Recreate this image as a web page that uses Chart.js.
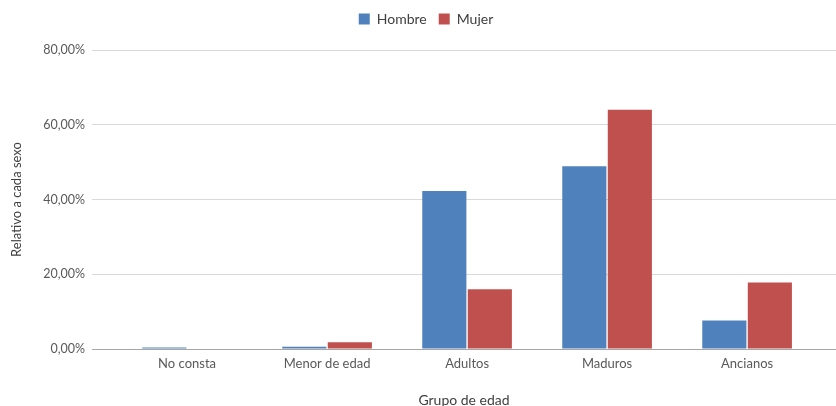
<!DOCTYPE html>
<html>
<head>
<meta charset="utf-8">
<script src="https://cdn.jsdelivr.net/npm/chart.js@4"></script>
<style>
  html, body { margin: 0; padding: 0; background: #fff; }
  #wrap { width: 836px; height: 406px; position: relative; }
</style>
</head>
<body>
<div id="wrap"><canvas id="c"></canvas></div>
<script>
// Age groups and share of each sex (%) per group
const categories = ['No consta', 'Menor de edad', 'Adultos', 'Maduros', 'Ancianos'];
const hombre = [0.4, 0.6, 42.3, 48.9, 7.6];
const mujer = [0, 1.8, 16.0, 64.0, 17.8];
const yMax = 80;
const yStep = 20;

const FONT = 'Lato, "Open Sans", sans-serif';
const pct = v => v.toFixed(2).replace('.', ',') + '%';

// nudge the legend so it sits centred over the plot band
const legendShift = {
  id: 'legendShift',
  afterLayout(chart) {
    if (chart.legend) { chart.legend.left += 8; chart.legend.right += 8; }
  }
};

new Chart(document.getElementById('c'), {
  type: 'bar',
  data: {
    labels: categories,
    datasets: [
      { label: 'Hombre', data: hombre, backgroundColor: '#4F81BD', barPercentage: 0.97, categoryPercentage: 0.65 },
      { label: 'Mujer', data: mujer, backgroundColor: '#C0504D', barPercentage: 0.97, categoryPercentage: 0.65 }
    ]
  },
  plugins: [legendShift],
  options: {
    responsive: true,
    maintainAspectRatio: false,
    animation: false,
    layout: { padding: { left: 0, right: 0, top: 0, bottom: 0 } },
    plugins: {
      legend: {
        position: 'top',
        labels: {
          boxWidth: 11, boxHeight: 11, padding: 12,
          color: '#404040',
          font: { family: FONT, size: 14 }
        }
      },
      // empty spacer between the legend and the plot
      subtitle: { display: true, text: '', weight: 500, padding: { top: 0, bottom: 2 }, font: { size: 10 } },
      tooltip: { enabled: false }
    },
    scales: {
      x: {
        offset: true,
        grid: { display: false, drawTicks: false },
        border: { display: false },
        ticks: { color: '#595959', padding: 7, maxRotation: 0, autoSkip: false, font: { family: FONT, size: 13 } },
        title: { display: true, text: 'Grupo de edad', color: '#404040', padding: { top: 0, bottom: -3 }, font: { family: FONT, size: 14 } },
        afterBuildTicks: s => {
          // plot band is wider than the five category slots: shift the category origin
          s._startValue = -0.679;
          s._valueRange = 5.314;
        },
        afterFit: s => { s.height = 57; }
      },
      y: {
        min: 0, max: yMax,
        grid: {
          drawTicks: false,
          color: ctx => ctx.tick && ctx.tick.value === 0 ? '#a6a6a6' : '#d9d9d9',
          lineWidth: 1
        },
        border: { display: false },
        ticks: { stepSize: yStep, color: '#595959', padding: 7, callback: v => pct(v), font: { family: FONT, size: 12.5 } },
        title: { display: true, text: 'Relativo a cada sexo', color: '#404040', padding: { top: 9, bottom: 0 }, font: { family: FONT, size: 13 } },
        afterFit: s => { s.width = 92; }
      }
    }
  }
});
</script>
</body>
</html>
